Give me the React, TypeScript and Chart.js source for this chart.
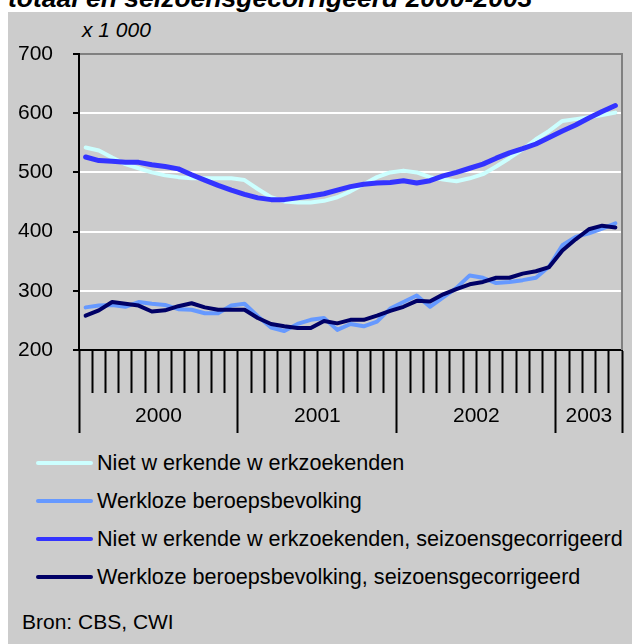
import React, { useEffect, useRef } from 'react';
import { Chart, registerables } from 'chart.js';

Chart.register(...registerables);

// ---- data ----
const months = [
  '2000-01', '2000-02', '2000-03', '2000-04', '2000-05', '2000-06', '2000-07', '2000-08', '2000-09', '2000-10', '2000-11', '2000-12',
  '2001-01', '2001-02', '2001-03', '2001-04', '2001-05', '2001-06', '2001-07', '2001-08', '2001-09', '2001-10', '2001-11', '2001-12',
  '2002-01', '2002-02', '2002-03', '2002-04', '2002-05', '2002-06', '2002-07', '2002-08', '2002-09', '2002-10', '2002-11', '2002-12',
  '2003-01', '2003-02', '2003-03', '2003-04', '2003-05',
];

const years = ['2000', '2001', '2002', '2003'];
const yearStartIndex = [0, 12, 24, 36];

const yTickValues = [200, 300, 400, 500, 600, 700];

const nietWerkend = [
  542, 537, 525, 514, 507, 500, 495, 492, 490, 490, 490, 490,
  487, 472, 458, 451, 449, 449, 452, 458, 468, 480, 492, 500,
  503, 500, 492, 488, 485, 490, 497, 510, 524, 539, 556, 570,
  587, 590, 593, 597, 601,
];

const werkloze = [
  272, 275, 276, 273, 281, 278, 276, 269, 268, 262, 262, 275,
  278, 257, 238, 232, 244, 251, 254, 234, 244, 240, 248, 270,
  281, 292, 273, 289, 305, 326, 322, 313, 315, 318, 322, 341,
  377, 391, 397, 405, 414,
];

const nietWerkendSc = [
  526, 520, 519, 517, 517, 513, 510, 506, 496, 487, 478, 470,
  463, 457, 454, 454, 457, 460, 464, 470, 476, 480, 482, 483,
  486, 482, 486, 494, 500, 507, 514, 524, 533, 540, 548, 559,
  570, 580, 592, 603, 613,
];

const werklozeSc = [
  258, 267, 281, 278, 275, 265, 267, 274, 279, 272, 268, 268,
  268, 254, 244, 240, 237, 237, 249, 245, 251, 251, 258, 266,
  273, 283, 282, 294, 303, 311, 315, 322, 322, 329, 333, 340,
  368, 387, 404, 410, 407,
];

const seriesNames = [
  'Niet w erkende w erkzoekenden',
  'Werkloze beroepsbevolking',
  'Niet w erkende w erkzoekenden, seizoensgecorrigeerd',
  'Werkloze beroepsbevolking, seizoensgecorrigeerd',
];

const titleText = 'totaal en seizoensgecorrigeerd 2000-2003';
const unitText = 'x 1 000';
const sourceText = 'Bron: CBS, CWI';

// ---- styles ----
const COLORS = ['#ccffff', '#6699ff', '#3333ff', '#000066'];
const WIDTHS = [4, 4, 5, 4];
const FONT = "'Liberation Sans', Arial, Helvetica, sans-serif";

export default function App() {
  const canvasRef = useRef<HTMLCanvasElement | null>(null);

  useEffect(() => {
    const canvas = canvasRef.current;
    if (!canvas) return;

    const boundaries = [...yearStartIndex, months.length];
    const mids = yearStartIndex.map((s, i) => (s + boundaries[i + 1]) / 2);
    const yearTicks = [...boundaries, ...mids].sort((a, b) => a - b);

    const seriesData = [nietWerkend, werkloze, nietWerkendSc, werklozeSc];

    const frame = {
      id: 'frame',
      afterDraw(chart: any) {
        const { ctx, chartArea } = chart;
        ctx.save();
        ctx.strokeStyle = '#808080';
        ctx.lineWidth = 2;
        ctx.beginPath();
        ctx.moveTo(chartArea.right, chartArea.top - 1);
        ctx.lineTo(chartArea.right, chartArea.bottom);
        ctx.stroke();
        ctx.restore();
      },
    };

    const chart = new Chart(canvas, {
      type: 'line',
      data: {
        labels: months,
        datasets: seriesData.map((d, i) => ({
          label: seriesNames[i],
          data: d,
          borderColor: COLORS[i],
          backgroundColor: COLORS[i],
          borderWidth: WIDTHS[i],
          pointRadius: 0,
          tension: 0,
          fill: false,
          borderCapStyle: 'round' as const,
          borderJoinStyle: 'round' as const,
          order: 4 - i,
        })),
      },
      options: {
        animation: false,
        responsive: false,
        events: [],
        layout: { padding: { left: 0, top: 54, right: 10, bottom: 2 } },
        plugins: {
          legend: { display: false },
          tooltip: { enabled: false },
          title: { display: false },
        },
        scales: {
          x: {
            type: 'category',
            position: 'bottom',
            offset: true,
            weight: 0,
            grid: {
              offset: true,
              drawOnChartArea: false,
              drawTicks: true,
              tickLength: 43,
              tickWidth: 2,
              tickColor: '#000000',
            },
            border: { display: true, color: '#000000', width: 2 },
            ticks: { display: false },
            afterFit: (s: any) => {
              s.height = 43;
            },
          },
          yr: {
            type: 'linear',
            axis: 'x',
            position: 'bottom',
            weight: 1,
            min: 0,
            max: months.length,
            afterBuildTicks: (s: any) => {
              s.ticks = yearTicks.map((v) => ({ value: v }));
            },
            afterFit: (s: any) => {
              s.height = 50;
            },
            grid: {
              drawOnChartArea: false,
              drawTicks: true,
              tickLength: 40,
              tickWidth: 2,
              tickColor: (ctx: any) =>
                ctx.tick && boundaries.includes(ctx.tick.value) ? '#000000' : 'rgba(0,0,0,0)',
            },
            border: { display: false },
            ticks: {
              autoSkip: false,
              maxRotation: 0,
              minRotation: 0,
              padding: -29,
              color: '#000000',
              font: { family: FONT, size: 21 },
              callback: (v: any) => {
                const k = mids.indexOf(Number(v));
                return k >= 0 ? years[k] : '';
              },
            },
          },
          y: {
            type: 'linear',
            min: 200,
            max: 700,
            afterBuildTicks: (s: any) => {
              s.ticks = yTickValues.map((v) => ({ value: v }));
            },
            afterFit: (s: any) => {
              s.width = 79;
            },
            grid: {
              color: (ctx: any) =>
                ctx.tick && ctx.tick.value === 700
                  ? '#808080'
                  : ctx.tick && ctx.tick.value === 200
                  ? 'rgba(0,0,0,0)'
                  : '#ffffff',
              lineWidth: 2,
              drawTicks: true,
              tickLength: 6,
              tickWidth: 2,
              tickColor: '#000000',
            },
            border: { display: true, color: '#000000', width: 2 },
            ticks: {
              padding: 20,
              color: '#000000',
              font: { family: FONT, size: 21 },
            },
          },
        },
      },
      plugins: [frame],
    } as any);

    return () => {
      chart.destroy();
    };
  }, []);

  const legendTop = [463, 501, 539, 577];

  return (
    <div
      style={{
        position: 'absolute',
        left: 0,
        top: 0,
        width: 632,
        height: 644,
        overflow: 'hidden',
        background: '#ffffff',
        fontFamily: FONT,
      }}
    >
      <div
        style={{
          position: 'absolute',
          left: 8,
          top: 12,
          width: 624,
          height: 632,
          background: '#cccccc',
        }}
      />
      <div
        style={{
          position: 'absolute',
          left: 8,
          top: -15,
          fontSize: 26.5,
          lineHeight: '26px',
          fontWeight: 'bold',
          fontStyle: 'italic',
          whiteSpace: 'nowrap',
          color: '#000',
        }}
      >
        {titleText}
      </div>
      <div
        style={{
          position: 'absolute',
          left: 82,
          top: 19,
          fontSize: 21,
          lineHeight: '21px',
          fontStyle: 'italic',
          whiteSpace: 'nowrap',
          color: '#000',
        }}
      >
        {unitText}
      </div>
      <canvas
        ref={canvasRef}
        width={632}
        height={445}
        style={{ position: 'absolute', left: 0, top: 0 }}
      />
      {seriesNames.map((name, i) => (
        <div
          key={name}
          style={{
            position: 'absolute',
            left: 36,
            top: legendTop[i] - 12,
            height: 24,
            display: 'flex',
            alignItems: 'center',
            whiteSpace: 'nowrap',
          }}
        >
          <div
            style={{
              width: 57,
              height: 4,
              borderRadius: 2,
              background: COLORS[i],
              marginRight: 4,
            }}
          />
          <span style={{ fontSize: 21.6, lineHeight: '24px', color: '#000' }}>{name}</span>
        </div>
      ))}
      <div
        style={{
          position: 'absolute',
          left: 22,
          top: 610,
          fontSize: 21,
          lineHeight: '24px',
          whiteSpace: 'nowrap',
          color: '#000',
        }}
      >
        {sourceText}
      </div>
    </div>
  );
}
